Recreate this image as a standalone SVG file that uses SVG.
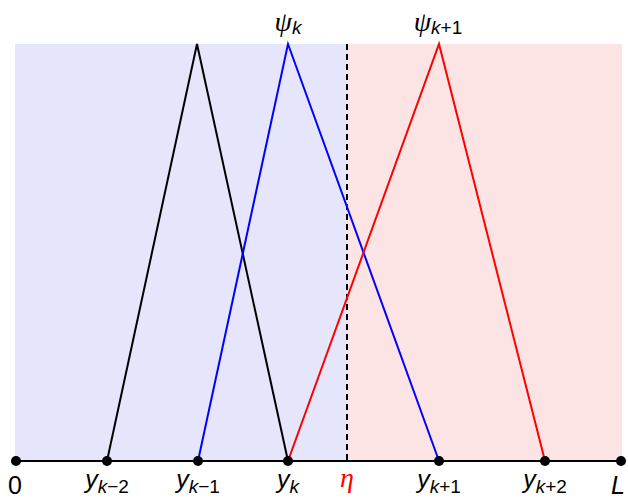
<svg xmlns="http://www.w3.org/2000/svg" width="628" height="499" viewBox="0 0 628 499">
<style>
.tri{fill:none;stroke-width:2;stroke-linejoin:miter}
.dot{fill:#000}
.lab{font-family:"Liberation Sans","DejaVu Sans",sans-serif;font-style:italic;font-size:25px;fill:#000}
.sub{font-family:"Liberation Sans","DejaVu Sans",sans-serif;font-style:normal;font-size:19px}
.it{font-style:italic}
.num{font-family:"Liberation Sans","DejaVu Sans",sans-serif;font-size:25px;fill:#000}
.gr{font-family:"Liberation Serif","DejaVu Serif",serif;font-style:italic;font-size:28px}
</style>
<g id="background">
<rect x="15" y="44" width="332" height="417" fill="#e5e5fc"/>
<rect x="347" y="44" width="275" height="417" fill="#fde4e4"/>
</g>
<g id="connectors">
<line x1="347" y1="44" x2="347" y2="461" stroke="#000" stroke-width="2" stroke-dasharray="6,4"/>
<polyline class="tri" stroke="#000" points="107,461 197,44 288,461"/>
<polyline class="tri" stroke="#0000ff" points="198,461 288,44 439,461"/>
<polyline class="tri" stroke="#ff0000" points="288,461 439,44 545,461"/>
<line x1="15" y1="461" x2="621" y2="461" stroke="#000" stroke-width="2"/>
</g>
<g id="n0"><circle class="dot" cx="16" cy="461" r="5"/><text class="num" x="8" y="494">0</text></g>
<g id="nkm2"><circle class="dot" cx="107" cy="461" r="5"/><text class="lab" x="107" y="488" text-anchor="middle">y<tspan class="sub" dy="5"><tspan class="it">k</tspan>−2</tspan></text></g>
<g id="nkm1"><circle class="dot" cx="198" cy="461" r="5"/><text class="lab" x="198" y="488" text-anchor="middle">y<tspan class="sub" dy="5"><tspan class="it">k</tspan>−1</tspan></text></g>
<g id="nk"><circle class="dot" cx="288" cy="461" r="5"/><text class="lab" x="288" y="488" text-anchor="middle">y<tspan class="sub it" dy="5">k</tspan></text></g>
<g id="eta"><text class="gr" x="347" y="487" text-anchor="middle" fill="#ff0000">η</text></g>
<g id="nkp1"><circle class="dot" cx="439" cy="461" r="5"/><text class="lab" x="439" y="488" text-anchor="middle">y<tspan class="sub" dy="5"><tspan class="it">k</tspan>+1</tspan></text></g>
<g id="nkp2"><circle class="dot" cx="545" cy="461" r="5"/><text class="lab" x="545" y="488" text-anchor="middle">y<tspan class="sub" dy="5"><tspan class="it">k</tspan>+2</tspan></text></g>
<g id="nL"><circle class="dot" cx="621" cy="461" r="5"/><text class="lab" x="611" y="494" font-size="26">L</text></g>
<g id="psik"><text class="gr" x="288" y="31" text-anchor="middle">ψ<tspan class="sub it" dy="3">k</tspan></text></g>
<g id="psik1"><text class="gr" x="438" y="31" text-anchor="middle">ψ<tspan class="sub" dy="3"><tspan class="it">k</tspan>+1</tspan></text></g>
</svg>
